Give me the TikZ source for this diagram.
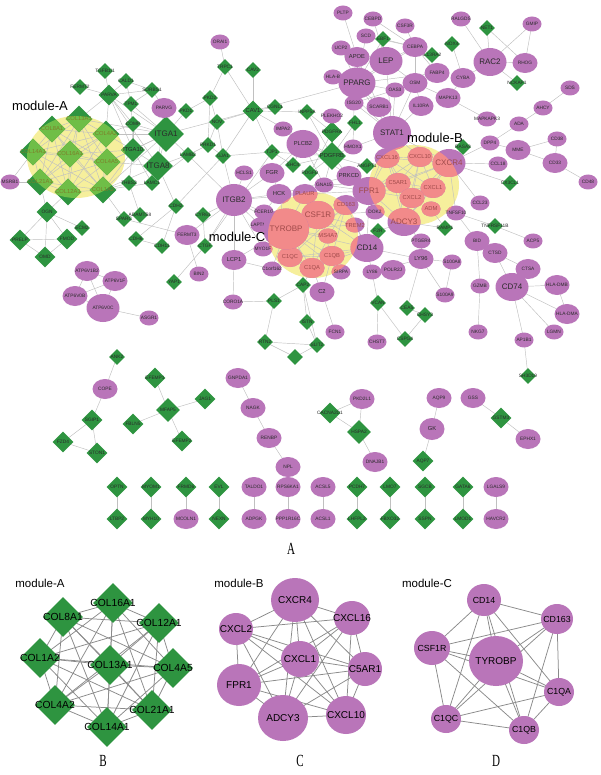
\documentclass[tikz,border=0pt]{standalone}
\usepackage{fontspec}
\setmainfont{Liberation Sans}
\newfontfamily\serifx{Liberation Serif}
\usetikzlibrary{shapes.geometric}
\pgfdeclarelayer{hl}\pgfdeclarelayer{bg}
\pgfsetlayers{hl,bg,main}
\definecolor{gcol}{HTML}{2E9440}
\definecolor{pcol}{HTML}{B975B9}
\definecolor{lgcol}{HTML}{6FBE47}
\definecolor{scol}{HTML}{F28A8A}
\definecolor{ycol}{HTML}{F6EF9C}
\definecolor{ecol}{HTML}{C0C0C0}
\definecolor{ecolb}{HTML}{8A8A8A}
\definecolor{txa}{HTML}{7E7E2A}
\definecolor{txb}{HTML}{A04A4A}
\definecolor{txc}{HTML}{2A2A2A}
\newcommand\N[5]{\node[#1] (#2) at (#3) {};\node[#4] (#2l) at (#2.center) {#5};}
\tikzset{
 pbase/.style={ellipse, fill=pcol, inner sep=0pt,
   path picture={\fill[scol] (hB) ellipse [x radius=45pt, y radius=40pt];
                 \fill[scol] (hC) ellipse [x radius=45pt, y radius=43pt];}},
 gbase/.style={diamond, fill=gcol, inner sep=0pt,
   path picture={\fill[lgcol] (hA) ellipse [x radius=49pt, y radius=41pt];}},
 pS/.style={pbase, minimum width=19pt, minimum height=15pt},
 pM/.style={pbase, minimum width=25pt, minimum height=20pt},
 pL/.style={pbase, minimum width=33pt, minimum height=28pt},
 pX/.style={pbase, minimum width=40pt, minimum height=35pt},
 gS/.style={gbase, minimum size=16pt},
 gM/.style={gbase, minimum size=21pt},
 gL/.style={gbase, minimum size=27pt},
 gX/.style={gbase, minimum size=36pt},
 t1/.style={font=\fontsize{4.8}{5}\selectfont, inner sep=0pt, text=txc},
 t2/.style={font=\fontsize{5.8}{6}\selectfont, inner sep=0pt, text=txc},
 t3/.style={font=\fontsize{8}{8}\selectfont, inner sep=0pt, text=txc},
 tA/.style={t2, text=txa},
 tB/.style={t2, text=txb},
 tB3/.style={t3, text=txb},
 edge/.style={draw=ecol, line width=0.45pt},
 edgeb/.style={draw=ecolb, line width=0.75pt},
 gB/.style={diamond, fill=gcol, inner sep=0pt, minimum size=40pt},
 pB/.style={ellipse, fill=pcol, inner sep=0pt},
 tbA/.style={font=\fontsize{10.3}{10}\selectfont, inner sep=0pt, text=black},
 tb/.style={font=\fontsize{10}{10}\selectfont, inner sep=0pt, text=black},
 tbs/.style={font=\fontsize{8.8}{9}\selectfont, inner sep=0pt, text=black},
 modlab/.style={font=\fontsize{13}{13}\selectfont, inner sep=0pt},
 modlabb/.style={font=\fontsize{11.5}{12}\selectfont, inner sep=0pt},
 panlab/.style={font=\serifx\fontsize{17}{17}\selectfont, inner sep=0pt},
}
\begin{document}
\begin{tikzpicture}[x=1pt,y=-1pt]
\useasboundingbox (0,0) rectangle (600,775);
\coordinate (hA) at (76,157);
\coordinate (hB) at (414,185);
\coordinate (hC) at (313,235);
\begin{pgfonlayer}{hl}
\fill[white] (0,0) rectangle (600,775);
\fill[ycol] (hA) ellipse [x radius=49pt, y radius=41pt];
\fill[ycol] (hB) ellipse [x radius=45pt, y radius=40pt];
\fill[ycol] (hC) ellipse [x radius=45pt, y radius=43pt];
\end{pgfonlayer}
% ---------- main network: green diamonds ----------
\N{gS}{TGFB1I1}{105,71}{t1}{TGFB1I1}
\N{gS}{FERMT2}{80,87}{t1}{FERMT2}
\N{gS}{CALD1}{126,81}{t1}{CALD1}
\N{gS}{SORBS1}{152,90}{t1}{SORBS1}
\N{gS}{TPM1}{131,104}{t1}{TPM1}
\N{gS}{PKD1}{186,111}{t1}{PKD1}
\N{gS}{COMP}{133,124}{t1}{COMP}
\N{gS}{LAMB2}{188,155}{t1}{LAMB2}
\N{gS}{THBS2}{129,183}{t1}{THBS2}
\N{gS}{LAMC1}{152,183}{t1}{LAMC1}
\N{gS}{ECM2}{82,228}{t1}{ECM2}
\N{gS}{SPARC}{124,219}{t1}{SPARC}
\N{gS}{ADAMTS8}{140,215}{t1}{ADAMTS8}
\N{gS}{CDH2}{176,206}{t1}{CDH2}
\N{gS}{CDH6}{136,239}{t1}{CDH6}
\N{gS}{CDH11}{162,246}{t1}{CDH11}
\N{gS}{CYR61}{203,215}{t1}{CYR61}
\N{gS}{CTGF}{205,246}{t1}{CTGF}
\N{gS}{YAP1}{174,282}{t1}{YAP1}
\N{gS}{TRPC1}{225,67}{t1}{TRPC1}
\N{gS}{CAV2}{253,70}{t1}{CAV2}
\N{gS}{PKD2}{210,98}{t1}{PKD2}
\N{gS}{CGNL1}{275,107}{t1}{CGNL1}
\N{gS}{NOV}{217,122}{t1}{NOV}
\N{gS}{PRKD1}{208,145}{t1}{PRKD1}
\N{gS}{GJA1}{223,156}{t1}{GJA1}
\N{gS}{TJP1}{272,152}{t1}{TJP1}
\N{gS}{INPP5A}{307,112}{t1}{INPP5A}
\N{gS}{FHL1}{355,123}{t1}{FHL1}
\N{gS}{SHC4}{293,165}{t1}{SHC4}
\N{gS}{ANGPT1}{367,166}{t1}{ANGPT1}
\N{gS}{PDGFD}{310,173}{t1}{PDGFD}
\N{gS}{PLS1}{274,301}{t1}{PLS1}
\N{gS}{CAP2}{303,285}{t1}{CAP2}
\N{gS}{ISTN}{307,322}{t1}{ISTN}
\N{gS}{RTN2}{265,342}{t1}{RTN2}
\N{gS}{SLIT2}{317,345}{t1}{SLIT2}
\N{gS}{UNK1}{295,357}{t1}{}
\N{gS}{F2R}{378,231}{t1}{F2R}
\N{gS}{RAMP1}{445,228}{t1}{RAMP1}
\N{gS}{EBF1}{383,39}{t1}{EBF1}
\N{gS}{IL13RA2}{432,55}{t1}{IL13RA2}
\N{gS}{NOX4}{452,44}{t1}{NOX4}
\N{gS}{NET1}{487,28}{t1}{NET1}
\N{gS}{NCKAP1}{517,83}{t1}{NCKAP1}
\N{gS}{RASA3}{463,147}{t1}{RASA3}
\N{gS}{CX3CL1}{510,183}{t1}{CX3CL1}
\N{gS}{TNFRSF11B}{495,226}{t1}{TNFRSF11B}
\N{gS}{SH3D19}{528,376}{t1}{SH3D19}
\N{gS}{CEA5}{407,308}{t1}{CEA5}
\N{gS}{CHSY3}{425,315}{t1}{CHSY3}
\N{gS}{CSPG4}{405,339}{t1}{CSPG4}
\N{gS}{VCAN}{378,303}{t1}{VCAN}
\N{gM}{PARVA}{109,95}{t1}{PARVA}
\N{gbase, minimum size=24pt}{ITGA10}{133,150}{t2}{ITGA10}
\N{gM}{OGN}{47,212}{t1}{OGN}
\N{gM}{PRELP}{20,240}{t1}{PRELP}
\N{gM}{FMOD}{67,239}{t1}{FMOD}
\N{gM}{OMD}{45,257}{t1}{OMD}
\N{gM}{CAV1}{253,111}{t2}{CAV1}
\N{gM}{PDGFRA}{332,132}{t1}{PDGFRA}
\N{gbase, minimum size=30pt}{ITGA8}{158,166}{t3}{ITGA8}
\N{gbase, minimum size=28pt}{PDGFRB}{332,156}{t2}{PDGFRB}
\N{gX}{ITGA1}{166,134}{t3}{ITGA1}
% module A
\N{gL}{COL13A1}{79,119}{tA}{COL13A1}
\N{gL}{COL8A1}{52,129}{tA}{COL8A1}
\N{gL}{COL4A2}{106,134}{tA}{COL4A2}
\N{gL}{COL14A1}{33,152}{tA}{COL14A1}
\N{gL}{COL16A1}{70,154}{tA}{COL16A1}
\N{gL}{COL4A5}{107,162}{tA}{COL4A5}
\N{gL}{COL21A1}{40,182}{tA}{COL21A1}
\N{gL}{COL12A1}{68,192}{tA}{COL12A1}
\N{gL}{COL1A2}{103,190}{tA}{COL1A2}
% ---------- purple circles ----------
\N{pS}{MSRB1}{10,182}{t1}{MSRB1}
\N{pM}{PARVG}{164,108}{t1}{PARVG}
\N{pS}{ORAI1}{220,42}{t1}{ORAI1}
\N{pS}{PLEKHO2}{332,116}{t1}{PLEKHO2}
\N{pS}{IMPA2}{283,129}{t1}{IMPA2}
\N{pS}{HMOX1}{353,147}{t1}{HMOX1}
\N{pS}{HCLS1}{244,173}{t1}{HCLS1}
\N{pS}{GNA15}{324,185}{t1}{GNA15}
\N{pS}{FCER1G}{264,212}{t1}{FCER1G}
\N{pS}{LAPTM5}{260,225}{t1}{LAPTM5}
\N{pS}{MYO1F}{263,249}{t1}{MYO1F}
\N{pS}{C1orf162}{272,269}{t1}{C1orf162}
\N{pS}{CORO1A}{233,302}{t1}{CORO1A}
\N{pS}{FCN1}{335,332}{t1}{FCN1}
\N{pS}{CHST7}{377,342}{t1}{CHST7}
\N{pS}{ASGR1}{149,318}{t1}{ASGR1}
\N{pS}{BIN2}{199,274}{t1}{BIN2}
\N{pS}{TREM2}{355,225}{tB}{TREM2}
\N{pS}{MS4A7}{328,236}{tB}{MS4A7}
\N{pS}{SIRPA}{341,272}{t1}{SIRPA}
\N{pS}{LY86}{372,272}{t1}{LY86}
\N{pS}{DOK2}{375,212}{t1}{DOK2}
\N{pS}{ADM}{431,209}{tB}{ADM}
\N{pS}{TNFSF10}{456,213}{t1}{TNFSF10}
\N{pS}{PTGER4}{421,241}{t1}{PTGER4}
\N{pS}{S100A8}{452,262}{t1}{S100A8}
\N{pS}{S100A9}{445,295}{t1}{S100A9}
\N{pS}{PLTP}{343,13}{t1}{PLTP}
\N{pS}{CEBPD}{373,19}{t1}{CEBPD}
\N{pS}{CSF3R}{405,26}{t1}{CSF3R}
\N{pS}{SCD}{366,36}{t1}{SCD}
\N{pS}{UCP2}{341,48}{t1}{UCP2}
\N{pS}{HLAB}{333,77}{t1}{HLA-B}
\N{pS}{OAS3}{395,90}{t1}{OAS3}
\N{pS}{ISG20}{354,103}{t1}{ISG20}
\N{pS}{RALGDS}{461,19}{t1}{RALGDS}
\N{pS}{GMIP}{532,24}{t1}{GMIP}
\N{pS}{SDS}{570,88}{t1}{SDS}
\N{pS}{AHCY}{543,108}{t1}{AHCY}
\N{pS}{MAPKAPK3}{487,119}{t1}{MAPKAPK3}
\N{pS}{ADA}{519,124}{t1}{ADA}
\N{pS}{DPP4}{490,143}{t1}{DPP4}
\N{pS}{CD38}{557,139}{t1}{CD38}
\N{pS}{CD48}{588,182}{t1}{CD48}
\N{pS}{CCL18}{498,164}{t1}{CCL18}
\N{pS}{CCL23}{480,203}{t1}{CCL23}
\N{pS}{ACP5}{533,241}{t1}{ACP5}
\N{pS}{GZMB}{480,286}{t1}{GZMB}
\N{pS}{LGMN}{554,332}{t1}{LGMN}
\N{pS}{NKG7}{478,332}{t1}{NKG7}
\N{pS}{AP1B1}{524,340}{t1}{AP1B1}
\N{pM}{FERMT3}{187,235}{t1}{FERMT3}
\N{pM}{ATP6V1B2}{87,271}{t1}{ATP6V1B2}
\N{pM}{ATP6V1F}{115,281}{t1}{ATP6V1F}
\N{pM}{ATP6V0B}{75,296}{t1}{ATP6V0B}
\N{pM}{FGR}{272,173}{t2}{FGR}
\N{pM}{PRKCD}{349,176}{t2}{PRKCD}
\N{pM}{HCK}{279,194}{t2}{HCK}
\N{pM}{PLAUR}{305,194}{tB}{PLAUR}
\N{pM}{LCP1}{234,260}{t2}{LCP1}
\N{pM}{C2}{322,292}{t2}{C2}
\N{pM}{CD163}{346,205}{tB}{CD163}
\N{pM}{C1QC}{290,257}{tB}{C1QC}
\N{pM}{C1QB}{332,256}{tB}{C1QB}
\N{pM}{C1QA}{312,268}{tB}{C1QA}
\N{pM}{POLR2J}{393,270}{t1}{POLR2J}
\N{pM}{CXCL16}{387,158}{tB}{CXCL16}
\N{pM}{CXCL10}{420,157}{tB}{CXCL10}
\N{pM}{C5AR1}{398,183}{tB}{C5AR1}
\N{pM}{CXCL1}{433,188}{tB}{CXCL1}
\N{pM}{CXCL2}{412,198}{tB}{CXCL2}
\N{pM}{LY96}{421,259}{t2}{LY96}
\N{pM}{APOE}{357,57}{t2}{APOE}
\N{pM}{SCARB1}{379,107}{t1}{SCARB1}
\N{pM}{CEBPA}{415,47}{t1}{CEBPA}
\N{pM}{FABP4}{437,73}{t1}{FABP4}
\N{pM}{OSM}{415,83}{t1}{OSM}
\N{pM}{IL10RA}{421,106}{t1}{IL10RA}
\N{pM}{MAPK13}{448,98}{t1}{MAPK13}
\N{pM}{CYBA}{463,78}{t1}{CYBA}
\N{pM}{RHOG}{525,63}{t1}{RHOG}
\N{pM}{MME}{518,150}{t1}{MME}
\N{pM}{CD33}{555,163}{t1}{CD33}
\N{pM}{BID}{477,241}{t1}{BID}
\N{pM}{CTSD}{495,253}{t1}{CTSD}
\N{pM}{CTSA}{528,269}{t1}{CTSA}
\N{pM}{HLADMB}{557,285}{t1}{HLA-DMB}
\N{pM}{HLADMA}{567,314}{t1}{HLA-DMA}
\N{pL}{ATP6V0C}{103,308}{t1}{ATP6V0C}
\N{pL}{PLCB2}{303,144}{t2}{PLCB2}
\N{pbase, minimum width=36pt, minimum height=32pt}{ITGB2}{234,200}{t3}{ITGB2}
\N{pL}{CSF1R}{318,215}{tB3}{CSF1R}
\N{pL}{CD14}{367,248}{t3}{CD14}
\N{pL}{CXCR4}{449,163}{tB3}{CXCR4}
\N{pL}{FPR1}{369,191}{tB3}{FPR1}
\N{pL}{ADCY3}{404,222}{tB3}{ADCY3}
\N{pL}{LEP}{386,61}{t3}{LEP}
\N{pbase, minimum width=37pt, minimum height=31pt}{PPARG}{357,83}{t3}{PPARG}
\N{pL}{RAC2}{490,62}{t3}{RAC2}
\N{pL}{CD74}{512,287}{t3}{CD74}
\N{pbase, minimum width=38pt, minimum height=34pt}{STAT1}{392,133}{t3}{STAT1}
\N{pbase, minimum width=46pt, minimum height=41pt}{TYROBP}{286,229}{tB3}{TYROBP}
% module labels
\node[modlab] (labA) at (40,106) {module-A};
\node[modlab] (labB) at (435,138) {module-B};
\node[modlab] (labC) at (237,237) {module-C};
% ---------- small components ----------
\N{gS}{ANK2}{117,357}{t1}{ANK2}
\N{pM}{COPE}{105,389}{t1}{COPE}
\N{gM}{SGIP1}{92,420}{t1}{SGIP1}
\N{gM}{FZD4}{63,442}{t1}{FZD4}
\N{gM}{STON1}{97,453}{t1}{STON1}
\N{gM}{EFEMP1}{155,378}{t1}{EFEMP1}
\N{gbase, minimum size=24pt}{MFAP5}{168,410}{t1}{MFAP5}
\N{gM}{JAG1}{205,399}{t1}{JAG1}
\N{gM}{FBLN5}{133,424}{t1}{FBLN5}
\N{gM}{EFEMP2}{182,441}{t1}{EFEMP2}
\N{pM}{GNPDA1}{238,378}{t1}{GNPDA1}
\N{pM}{NAGK}{253,408}{t1}{NAGK}
\N{pM}{RENBP}{269,438}{t1}{RENBP}
\N{pM}{NPL}{288,467}{t1}{NPL}
\N{pM}{PKD2L1}{362,399}{t1}{PKD2L1}
\N{gM}{CACNA2D1}{330,413}{t1}{CACNA2D1}
\N{gbase, minimum size=24pt}{HSPA2}{359,432}{t1}{HSPA2}
\N{pM}{DNAJB1}{375,462}{t1}{DNAJB1}
\N{pM}{AQP9}{439,398}{t1}{AQP9}
\N{pbase, minimum width=25pt, minimum height=22pt}{GK}{432,429}{t2}{GK}
\N{gM}{AQP7}{423,461}{t1}{AQP7}
\N{pM}{GSS}{473,398}{t1}{GSS}
\N{gM}{GSTM3}{501,418}{t1}{GSTM3}
\N{pM}{EPHX1}{528,439}{t1}{EPHX1}
% pairs
\N{gM}{OPTN}{117,487}{t1}{OPTN}
\N{gM}{MYOM1}{151,487}{t1}{MYOM1}
\N{gM}{FRMD6}{186,487}{t1}{FRMD6}
\N{gM}{EVL}{219,487}{t1}{EVL}
\N{pM}{TALDO1}{254,487}{t1}{TALDO1}
\N{pM}{RPS6KA1}{288,487}{t1}{RPS6KA1}
\N{pM}{ACSL5}{323,487}{t1}{ACSL5}
\N{gM}{PCDH7}{357,487}{t1}{PCDH7}
\N{gM}{LMO7}{390,487}{t1}{LMO7}
\N{gM}{SGCB}{425,487}{t1}{SGCB}
\N{gM}{GATA6}{463,487}{t1}{GATA6}
\N{pM}{LGALS9}{496,487}{t1}{LGALS9}
\N{gM}{LTBP2}{117,519}{t1}{LTBP2}
\N{gM}{MYH10}{151,519}{t1}{MYH10}
\N{pM}{MCOLN1}{186,519}{t1}{MCOLN1}
\N{gM}{NEXN}{219,519}{t1}{NEXN}
\N{pM}{ADPGK}{254,519}{t1}{ADPGK}
\N{pM}{PPP1R16C}{288,519}{t1}{PPP1R16C}
\N{pM}{ACSL1}{323,519}{t1}{ACSL1}
\N{gM}{LHFPL2}{357,519}{t1}{LHFPL2}
\N{gM}{FBXO32}{390,519}{t1}{FBXO32}
\N{gM}{SSPN}{425,519}{t1}{SSPN}
\N{gM}{LMOD1}{463,519}{t1}{LMOD1}
\N{pM}{HAVCR2}{496,519}{t1}{HAVCR2}
\node[panlab] (pA) at (291,549) {\scalebox{0.65}[1]{A}};
% ---------- bottom panels ----------
\node[modlabb] (mA) at (40,583) {module-A};
\N{gB}{bCOL16A1}{113,603}{tbA}{COL16A1}
\N{gB}{bCOL8A1}{63,617}{tbA}{COL8A1}
\N{gB}{bCOL12A1}{159,623}{tbA}{COL12A1}
\N{gB}{bCOL1A2}{40,658}{tbA}{COL1A2}
\N{gB}{bCOL13A1}{110,665}{tbA}{COL13A1}
\N{gB}{bCOL4A5}{173,668}{tbA}{COL4A5}
\N{gB}{bCOL4A2}{55,705}{tbA}{COL4A2}
\N{gB}{bCOL21A1}{152,710}{tbA}{COL21A1}
\N{gB}{bCOL14A1}{107,727}{tbA}{COL14A1}
\node[panlab] (pB) at (103,761) {\scalebox{0.65}[1]{B}};
\node[modlabb] (mB) at (239,583) {module-B};
\N{pB, minimum width=48pt, minimum height=44pt}{bCXCR4}{295,600}{tb}{CXCR4}
\N{pB, minimum width=36pt, minimum height=34pt}{bCXCL16}{352,618}{tb}{CXCL16}
\N{pB, minimum width=34pt, minimum height=32pt}{bCXCL2}{236,629}{tb}{CXCL2}
\N{pB, minimum width=38pt, minimum height=36pt}{bCXCL1}{300,659}{tb}{CXCL1}
\N{pB, minimum width=34pt, minimum height=34pt}{bC5AR1}{365,669}{tb}{C5AR1}
\N{pB, minimum width=44pt, minimum height=42pt}{bFPR1}{239,685}{tb}{FPR1}
\N{pB, minimum width=50pt, minimum height=46pt}{bADCY3}{283,718}{tb}{ADCY3}
\N{pB, minimum width=40pt, minimum height=38pt}{bCXCL10}{346,715}{tb}{CXCL10}
\node[panlab] (pC) at (300,761) {\scalebox{0.65}[1]{C}};
\node[modlabb] (mC) at (427,583) {module-C};
\N{pB, minimum width=34pt, minimum height=32pt}{bCD14}{484,600}{tbs}{CD14}
\N{pB, minimum width=32pt, minimum height=30pt}{bCD163}{557,619}{tbs}{CD163}
\N{pB, minimum width=36pt, minimum height=34pt}{bCSF1R}{432,648}{tbs}{CSF1R}
\N{pB, minimum width=54pt, minimum height=50pt}{bTYROBP}{496,661}{tb}{TYROBP}
\N{pB, minimum width=30pt, minimum height=28pt}{bC1QA}{559,692}{tbs}{C1QA}
\N{pB, minimum width=30pt, minimum height=28pt}{bC1QC}{446,719}{tbs}{C1QC}
\N{pB, minimum width=30pt, minimum height=28pt}{bC1QB}{524,730}{tbs}{C1QB}
\node[panlab] (pD) at (496,761) {\scalebox{0.65}[1]{D}};
% ---------- edges ----------
\def\modA{COL13A1,COL8A1,COL4A2,COL14A1,COL16A1,COL4A5,COL21A1,COL12A1,COL1A2}
\def\modB{CXCL16,CXCL10,CXCR4,FPR1,C5AR1,CXCL1,CXCL2,ADCY3}
\def\modC{TYROBP,CSF1R,CD163,C1QA,C1QB,C1QC,CD14}
\def\bmodA{bCOL16A1,bCOL8A1,bCOL12A1,bCOL1A2,bCOL13A1,bCOL4A5,bCOL4A2,bCOL21A1,bCOL14A1}
\def\bmodB{bCXCR4,bCXCL16,bCXCL2,bCXCL1,bC5AR1,bFPR1,bADCY3,bCXCL10}
\def\bmodC{bCD14,bCD163,bCSF1R,bTYROBP,bC1QA,bC1QC,bC1QB}
\begin{pgfonlayer}{bg}
\foreach \a [count=\i] in \modA {\foreach \b [count=\j] in \modA {\ifnum\i<\j \draw[edge] (\a.center) -- (\b.center);\fi}}
\foreach \a [count=\i] in \modB {\foreach \b [count=\j] in \modB {\ifnum\i<\j \draw[edge] (\a.center) -- (\b.center);\fi}}
\foreach \a [count=\i] in \modC {\foreach \b [count=\j] in \modC {\ifnum\i<\j \draw[edge] (\a.center) -- (\b.center);\fi}}
\foreach \a [count=\i] in \bmodA {\foreach \b [count=\j] in \bmodA {\ifnum\i<\j \draw[edgeb] (\a.center) -- (\b.center);\fi}}
\foreach \a [count=\i] in \bmodB {\foreach \b [count=\j] in \bmodB {\ifnum\i<\j \draw[edgeb] (\a.center) -- (\b.center);\fi}}
\foreach \a [count=\i] in \bmodC {\foreach \b [count=\j] in \bmodC {\ifnum\i<\j \draw[edgeb] (\a.center) -- (\b.center);\fi}}
\foreach \a/\b in {TGFB1I1/PARVA,FERMT2/PARVA,CALD1/PARVA,CALD1/TPM1,CALD1/SORBS1,SORBS1/PARVA,SORBS1/TPM1,
 PARVA/ITGA1,PARVA/ITGA10,PARVA/ITGA8,PARVA/COMP,PARVA/COL4A2,TPM1/ITGA1,TPM1/ITGA10,PARVG/ITGA1,PARVG/ITGA8,
 PARVG/SORBS1,PKD1/ITGA1,PKD1/PKD2,COMP/ITGA1,COMP/ITGA10,ITGA1/LAMB2,ITGA1/ITGA10,ITGA1/ITGA8,ITGA10/ITGA8,
 ITGA8/LAMB2,ITGA8/LAMC1,ITGA10/THBS2,ITGA10/LAMC1,LAMB2/LAMC1,THBS2/ADAMTS8,LAMB2/ITGB2,ITGA1/CAV1,ITGA8/CDH2,
 ITGA1/COL4A2,ITGA1/COL4A5,ITGA10/COL4A2,ITGA10/COL4A5,ITGA10/COL1A2,ITGA8/COL1A2,ITGA8/COL4A5,COMP/COL4A2,
 THBS2/COL1A2,LAMC1/COL1A2,SPARC/COL1A2,OGN/COL12A1,OGN/COL21A1,MSRB1/COL21A1,MSRB1/COL14A1,ITGA1/COL1A2,
 ITGA1/COL13A1,ITGA10/COL16A1,PARVA/COL13A1,
 OGN/PRELP,OGN/FMOD,OGN/OMD,OGN/ECM2,PRELP/FMOD,PRELP/OMD,FMOD/OMD,
 SPARC/FERMT3,CDH2/CDH6,CDH2/CDH11,CDH6/CDH11,CDH2/GJA1,CYR61/CTGF,CYR61/ITGB2,CTGF/ITGB2,FERMT3/ITGB2,
 FERMT3/BIN2,CTGF/YAP1,
 ATP6V1B2/ATP6V1F,ATP6V1B2/ATP6V0B,ATP6V1B2/ATP6V0C,ATP6V1F/ATP6V0B,ATP6V1F/ATP6V0C,ATP6V0B/ATP6V0C,ATP6V0C/ASGR1,
 ORAI1/TRPC1,TRPC1/CAV1,TRPC1/PKD2,CAV2/CAV1,PKD2/NOV,PKD2/PRKD1,NOV/CAV1,NOV/GJA1,NOV/PRKD1,CAV1/GJA1,CAV1/TJP1,
 CAV1/CGNL1,CAV1/PPARG,CAV1/PDGFRB,CAV1/INPP5A,PRKD1/GJA1,PRKD1/LAMB2,GJA1/TJP1,GJA1/ITGB2,TJP1/SHC4,TJP1/PDGFRB,
 TJP1/CTGF,INPP5A/PDGFRB,INPP5A/PDGFRA,PDGFRA/PDGFRB,PDGFRA/PDGFD,PDGFRB/PDGFD,PDGFRB/SHC4,PDGFRB/PLCB2,
 PDGFRB/HMOX1,PDGFRB/ANGPT1,PDGFRB/PRKCD,PDGFRB/GNA15,PDGFRB/FHL1,IMPA2/PLCB2,PLCB2/GNA15,PLCB2/PRKCD,PLCB2/FGR,
 PLCB2/SHC4,PLEKHO2/PDGFRA,HMOX1/STAT1,HMOX1/ISG20,HCLS1/ITGB2,FGR/ITGB2,FGR/HCK,HCK/ITGB2,HCK/TYROBP,HCK/FCER1G,
 HCK/PRKCD,PRKCD/FPR1,GNA15/FPR1,GNA15/C5AR1,ITGB2/FCER1G,ITGB2/TYROBP,ITGB2/LAPTM5,ITGB2/LCP1,ITGB2/PLAUR,
 ITGB2/MYO1F,PLAUR/FPR1,PLAUR/TYROBP,PLAUR/CSF1R,FCER1G/TYROBP,LAPTM5/TYROBP,MYO1F/TYROBP,LCP1/CORO1A,
 LCP1/C1orf162,LCP1/TYROBP,C1orf162/TYROBP,CAP2/PLS1,CAP2/C1QA,CAP2/ISTN,CAP2/SLIT2,C2/C1QA,C2/C1QB,C2/FCN1,
 PLS1/CORO1A,PLS1/RTN2,ISTN/SLIT2,RTN2/SLIT2,RTN2/UNK1,SLIT2/UNK1,
 TREM2/TYROBP,TREM2/CSF1R,TREM2/CD14,MS4A7/TYROBP,MS4A7/CSF1R,SIRPA/TYROBP,SIRPA/C1QB,CD14/LY86,CD14/LY96,
 CD14/FPR1,CD163/FPR1,LY86/LY96,DOK2/FPR1,DOK2/CSF1R,F2R/ADCY3,F2R/CD14,
 STAT1/CXCL10,STAT1/CXCL16,STAT1/PPARG,STAT1/ISG20,STAT1/OAS3,STAT1/SCARB1,STAT1/IL10RA,STAT1/OSM,STAT1/HLAB,
 STAT1/FPR1,STAT1/CXCR4,CXCR4/CCL18,CXCR4/CX3CL1,CXCR4/DPP4,CXCR4/RASA3,CXCR4/CCL23,CXCR4/TNFSF10,
 ADCY3/PTGER4,ADCY3/RAMP1,ADM/RAMP1,
 TNFSF10/TNFRSF11B,TNFSF10/BID,TNFRSF11B/ACP5,BID/GZMB,BID/CTSD,GZMB/NKG7,CTSD/CTSA,CTSD/CD74,CTSA/CD74,
 CD74/HLADMB,CD74/HLADMA,HLADMB/HLADMA,CD74/LGMN,CD74/AP1B1,AP1B1/SH3D19,
 LY96/S100A8,LY96/S100A9,S100A8/S100A9,LY96/PTGER4,VCAN/CHST7,VCAN/CSPG4,VCAN/LY86,CHSY3/CEA5,CHSY3/CSPG4,CEA5/LY96,
 PLTP/APOE,CEBPD/CEBPA,CEBPD/LEP,CSF3R/CEBPA,SCD/PPARG,SCD/CEBPA,EBF1/CEBPA,EBF1/PPARG,UCP2/PPARG,UCP2/LEP,
 APOE/PPARG,APOE/LEP,APOE/SCARB1,LEP/PPARG,LEP/CEBPA,LEP/STAT1,LEP/OSM,HLAB/PPARG,PPARG/CEBPA,PPARG/FABP4,
 PPARG/ISG20,PPARG/SCARB1,PPARG/OAS3,OAS3/ISG20,CEBPA/FABP4,CEBPA/IL13RA2,CEBPA/OSM,FABP4/OSM,OSM/IL10RA,
 OSM/MAPK13,MAPK13/MAPKAPK3,CYBA/RAC2,CYBA/NOX4,CYBA/MAPK13,RAC2/RALGDS,RAC2/NET1,RAC2/RHOG,RAC2/GMIP,RAC2/NCKAP1,
 NET1/RHOG,GMIP/RHOG,SDS/AHCY,AHCY/ADA,ADA/DPP4,DPP4/MME,MME/CD38,MME/CD33,CD38/CD33,CD33/CD48,
 ANK2/COPE,COPE/SGIP1,SGIP1/FZD4,SGIP1/STON1,FZD4/STON1,EFEMP1/MFAP5,MFAP5/JAG1,MFAP5/FBLN5,MFAP5/EFEMP2,
 GNPDA1/NAGK,NAGK/RENBP,RENBP/NPL,PKD2L1/CACNA2D1,PKD2L1/HSPA2,CACNA2D1/HSPA2,HSPA2/DNAJB1,AQP9/GK,GK/AQP7,
 GSS/GSTM3,GSTM3/EPHX1,
 OPTN/LTBP2,MYOM1/MYH10,FRMD6/MCOLN1,EVL/NEXN,TALDO1/ADPGK,RPS6KA1/PPP1R16C,ACSL5/ACSL1,PCDH7/LHFPL2,
 LMO7/FBXO32,SGCB/SSPN,GATA6/LMOD1,LGALS9/HAVCR2}
 {\draw[edge] (\a.center) -- (\b.center);}
\end{pgfonlayer}
\end{tikzpicture}
\end{document}
